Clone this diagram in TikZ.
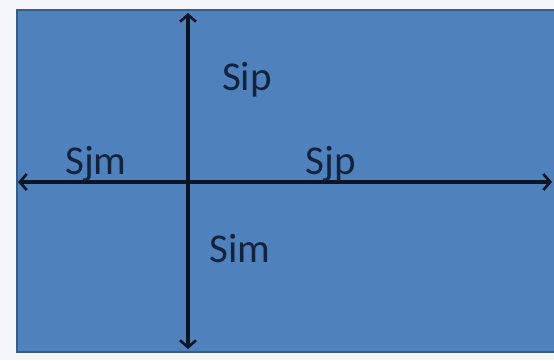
\documentclass[tikz,border=0pt]{standalone}
\usepackage{fontspec}
\setmainfont{Carlito}
\usetikzlibrary{arrows.meta}
\definecolor{boxblue}{HTML}{4F81BD}
\definecolor{boxedge}{HTML}{385D8A}
\definecolor{inkc}{HTML}{0B1526}
\definecolor{txtc}{HTML}{13233D}
\definecolor{bgc}{HTML}{F4F6F9}
\tikzset{
  axis/.style={draw=inkc, line width=3.2pt, {Straight Barb[length=7pt,width=16pt,line width=2.6pt]}-{Straight Barb[length=7pt,width=16pt,line width=2.6pt]}},
  lbl/.style={text=txtc, font=\fontsize{41}{44}\selectfont, inner sep=0pt}
}
\begin{document}
\begin{tikzpicture}[x=1pt,y=1pt]
\fill[bgc] (0,0) rectangle (554,360);
\useasboundingbox (0,0) rectangle (554,360);
\fill[boxblue, draw=boxedge, line width=2pt] (16.5,8) rectangle (560,350);
\coordinate (top) at (188,347);
\coordinate (bot) at (188,11);
\coordinate (lft) at (18,178);
\coordinate (rgt) at (552,178);
\draw[axis] (bot) -- (top);
\draw[axis] (lft) -- (rgt);
\node[lbl] (sip) at (247,280) {Sip};
\node[lbl] (sjp) at (331,196) {Sjp};
\node[lbl] (sjm) at (96,196) {Sjm};
\node[lbl] (sim) at (240,111) {Sim};
\end{tikzpicture}
\end{document}
